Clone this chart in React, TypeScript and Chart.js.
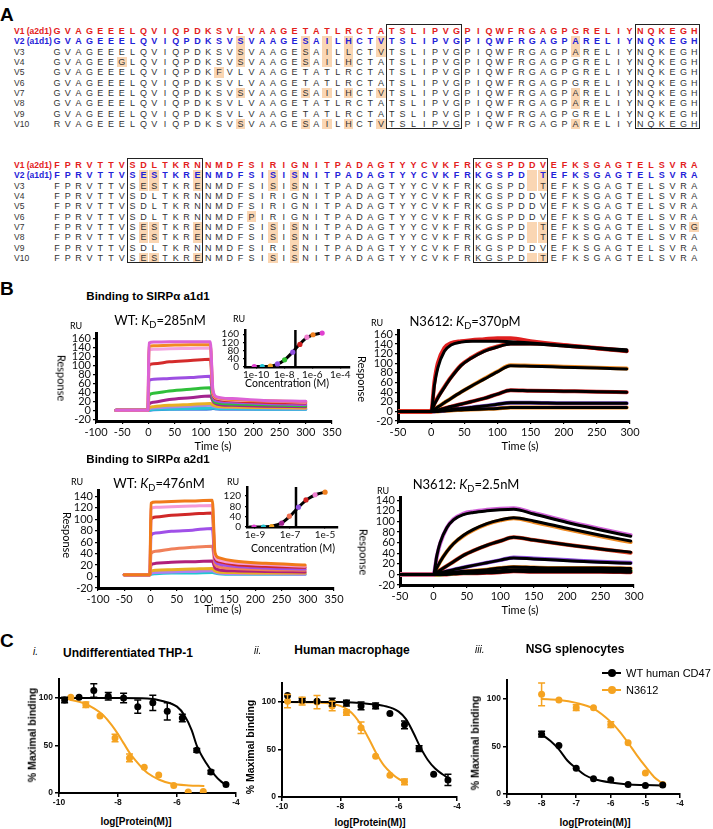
import React, { useEffect, useRef } from 'react';
import { Chart, registerables } from 'chart.js';
Chart.register(...registerables);

const ARIAL = '"Liberation Sans", Arial, sans-serif';
const CAL = 'Lato, "Liberation Sans", sans-serif';

// ---------------- Panel A data ----------------
const rowNames = ['V1 (a2d1)', 'V2 (a1d1)', 'V3', 'V4', 'V5', 'V6', 'V7', 'V8', 'V9', 'V10'];
const block1Seqs = [
  'GVAGEEELQVIQPDKSVLVAAGETATLRCTATSLIPVGPIQWFRGAGPGRELIYNQKEGH',
  'GVAGEEELQVIQPDKSVSVAAGESAILHCTVTSLIPVGPIQWFRGAGPARELIYNQKEGH',
  'GVAGEEELQVIQPDKSVSVAAGESAILLCTVTSLIPVGPIQWFRGAGPARELIYNQKEGH',
  'GVAGEEGLQVIQPDKSVSVAAGESAILHCTATSLIPVGPIQWFRGAGPGRELIYNQKEGH',
  'GVAGEEELQVIQPDKFVLVAAGETATLRCTATSLIPVGPIQWFRGAGPGRELIYNQKEGH',
  'GVAGEEELQVIQPDKSVLVAAGETATLRCTATSLIPVGPIQWFRGAGPGRELIYNQKEGH',
  'GVAGEEELQVIQPDKSVSVAAGESAILHCTVTSLIPVGPIQWFRGAGPARELIYNQKEGH',
  'GVAGEEELQVIQPDKSVLVAAGETATLRCTATSLIPVGPIQWFRGAGPARELIYNQKEGH',
  'GVAGEEELQVIQPDKSVLVAAGETATLRCTATSLIPVGPIQWFRGAGPGRELIYNQKEGH',
  'RVAGEEELQVIQPDKSVSVAAGESAILHCTVTSLIPVGPIQWFRGAGPARELIYNQKEGH',
];
const block1Marks = [
  [], [18, 24, 26, 28, 31, 49], [18, 24, 26, 28, 31, 49], [7, 18, 24, 26, 28], [16], [],
  [18, 24, 26, 28, 31, 49], [49], [], [18, 24, 26, 28, 31, 49],
];
const block1Boxes = [[32, 38], [55, 60]];
const block2Seqs = [
  'FPRVTTVSDLTKRNNMDFSIRIGNITPADAGTYYCVKFRKGSPDDVEFKSGAGTELSVRA',
  'FPRVTTVSESTKRENMDFSISISNITPADAGTYYCVKFRKGSPD-TEFKSGAGTELSVRA',
  'FPRVTTVSESTKRENMDFSISISNITPADAGTYYCVKFRKGSPD-TEFKSGAGTELSVRA',
  'FPRVTTVSDLTKRNNMDFSIRIGNITPADAGTYYCVKFRKGSPDDVEFKSGAGTELSVRA',
  'FPRVTTVSDLTKRNNMDFSIRIGNITPADAGTYYCVKFRKGSPDDVEFKSGAGTELSVRA',
  'FPRVTTVSDLTKRNNMDFPIRIGNITPADAGTYYCVKFRKGSPDDVEFKSGAGTELSVRA',
  'FPRVTTVSESTKRENMDFSISISNITPADAGTYYCVKFRKGSPD-TEFKSGAGTELSVRG',
  'FPRVTTVSESTKRENMDFSISISNITPADAGTYYCVKFRKGSPD-TEFKSGAGTELSVRA',
  'FPRVTTVSDLTKRNNMDFSIRISNITPADAGTYYCVKFRKGSPDDVEFKSGAGTELSVRA',
  'FPRVTTVSESTKRENMDFSISISNITPADAGTYYCVKFRKGSPD-TEFKSGAGTELSVRA',
];
const block2Marks = [
  [], [9, 10, 14, 21, 23, 45, 46], [9, 10, 14, 21, 23, 45, 46], [], [], [19],
  [9, 10, 14, 21, 23, 45, 46, 60], [9, 10, 14, 21, 23, 45, 46], [23], [9, 10, 14, 21, 23, 45, 46],
];
const block2Boxes = [[8, 14], [40, 46]];

// ---------------- Panel B data ----------------
const wtA1Time = [-62, -1, 1, 10, 40, 80, 118, 123, 130, 160, 220, 300];
const wtA1Curves = [
  [0, 0, 150, 152, 153, 153, 153, 45, 30, 26, 22, 20],
  [0, 0, 142, 144, 145, 146, 146, 40, 28, 24, 21, 19],
  [0, 0, 134, 136, 137, 138, 139, 38, 27, 23, 21, 18],
  [0, 0, 100, 104, 108, 111, 114, 35, 25, 21, 18, 16],
  [0, 0, 66, 69, 71, 73, 76, 30, 21, 18, 15, 13],
  [0, 0, 33, 38, 43, 47, 50, 24, 17, 14, 12, 10],
  [0, 0, 14, 18, 24, 28, 32, 20, 14, 11, 9, 8],
  [0, 0, 5, 8, 11, 13, 15, 12, 9, 7, 6, 5],
  [0, 0, 3, 5, 7, 9, 11, 9, 7, 6, 5, 4],
  [0, 0, 1, 2, 3, 4, 5, 6, 4, 4, 3, 3],
  [0, 0, 0, 1, 2, 2, 3, 4, 3, 2, 2, 2],
];
const wtA1Colors = ['#dc62d6', '#f28a22', '#f4a3df', '#d42b2b', '#9d4fe2', '#2fbf3a', '#a3238f', '#e8b024', '#a68be6', '#27c5d6', '#3f7fe0'];
const wtA1InsetLog = [-10.14, -9.57, -8.99, -8.48, -7.97, -7.39, -6.88, -6.38, -5.94, -5.29];
const wtA1InsetRU = [2, 2, 4, 15, 35, 72, 110, 145, 157, 165];
const wtA1InsetColors = ['#e040d0', '#20c0d0', '#f0a020', '#9050e0', '#30c030', '#9050e0', '#d02020', '#f080d0', '#f08020', '#e040d0'];
const wtA1FitLog = [-10.2, -9.5, -9, -8.5, -8, -7.5, -7, -6.5, -6, -5.5, -5.29];
const wtA1FitRU = [2, 2, 4, 13, 33, 65, 103, 137, 155, 163, 165];
const wtA1KdLog = -7.2;
const wtA1InsetTicks = [-10, -8, -6, -4];

const n3612A1Time = [-55, 0, 5, 10, 20, 30, 45, 60, 80, 100, 120, 150, 200, 250, 295];
const n3612A1Fits = [
  [0, 0, 55, 90, 125, 138, 144, 146, 146, 146, 145, 142, 137, 132, 128],
  [0, 0, 15, 28, 50, 70, 95, 110, 125, 134, 140, 140, 136, 131, 125],
  [0, 0, 4, 9, 18, 27, 40, 52, 67, 82, 95, 94, 92, 90, 88],
  [0, 0, 1, 3, 6, 10, 15, 20, 27, 36, 44, 43, 42, 41, 40],
  [0, 0, 0, 1, 2, 4, 6, 8, 11, 15, 18, 18, 17, 17, 17],
  [0, 0, 0, 0, 1, 2, 3, 4, 5, 6, 8, 8, 8, 8, 8],
];
const n3612A1Data = [
  [0, 0, 62, 100, 132, 142, 146, 148, 150, 152, 152, 146, 138, 132, 126],
  [0, 0, 16, 29, 51, 71, 96, 111, 126, 135, 141, 141, 137, 131, 125],
  [0, 0, 4, 9, 18, 27, 40, 52, 68, 83, 96, 95, 93, 91, 89],
  [0, 0, 1, 3, 6, 10, 15, 20, 27, 36, 44, 43, 42, 41, 40],
  [0, 0, 0, 1, 2, 4, 6, 8, 11, 15, 18, 18, 17, 17, 17],
  [0, 0, 0, 0, 1, 2, 3, 4, 5, 6, 8, 8, 8, 8, 8],
];
const n3612A1Colors = ['#e02020', '#e03020', '#f08a22', '#d02020', '#7a4fd0', '#f08a22'];

const wtA2Time = [-50, -1, 1, 10, 40, 80, 118, 123, 130, 160, 220, 295];
const wtA2Curves = [
  [3, 3, 128, 130, 131, 132, 133, 42, 33, 27, 23, 20],
  [3, 3, 118, 121, 122, 123, 124, 37, 29, 24, 21, 18],
  [3, 3, 100, 104, 107, 109, 111, 33, 26, 21, 18, 16],
  [3, 3, 72, 76, 79, 81, 84, 28, 22, 18, 15, 13],
  [3, 3, 40, 44, 48, 51, 53, 22, 17, 14, 12, 11],
  [3, 3, 20, 23, 25, 26, 27, 15, 12, 10, 9, 8],
  [3, 3, 9, 11, 12, 13, 14, 10, 8, 7, 6, 6],
  [3, 3, 6, 7, 8, 9, 10, 8, 6, 5, 5, 4],
  [3, 3, 4, 5, 6, 6, 7, 6, 5, 4, 4, 4],
];
const wtA2Colors = ['#f07a1a', '#f49ad8', '#d02828', '#a050e8', '#f0805a', '#b0207a', '#e8b020', '#b080f0', '#20c8d0'];
const wtA2InsetLog = [-9.06, -8.52, -8.05, -7.48, -7.04, -6.52, -6.09, -5.57, -5.0];
const wtA2InsetRU = [0, 0, 2, 15, 42, 77, 105, 125, 135];
const wtA2InsetColors = ['#e040d0', '#20c0d0', '#f0a020', '#a02090', '#f07050', '#9050e0', '#d02020', '#f080d0', '#f08020'];
const wtA2FitLog = [-9.3, -8.5, -8, -7.5, -7, -6.5, -6, -5.5, -5];
const wtA2FitRU = [0, 1, 4, 15, 42, 78, 108, 126, 135];
const wtA2KdLog = -6.66;
const wtA2InsetTicks = [-9, -7, -5];

const n3612A2Time = [-55, 0, 5, 10, 20, 30, 45, 60, 80, 100, 120, 150, 200, 250, 295];
const n3612A2Fits = [
  [0, 0, 35, 60, 88, 103, 113, 117, 120, 122, 123, 114, 98, 84, 72],
  [0, 0, 12, 24, 43, 58, 74, 85, 96, 103, 107, 101, 87, 74, 63],
  [0, 0, 4, 8, 16, 24, 36, 45, 55, 63, 70, 65, 56, 48, 42],
  [0, 0, 1, 3, 6, 9, 13, 17, 22, 27, 31, 29, 26, 23, 21],
  [0, 0, 0, 1, 2, 4, 6, 7, 9, 12, 14, 13, 12, 12, 11],
  [0, 0, 0, 0, 1, 2, 3, 4, 6, 7, 9, 9, 8, 8, 7],
  [0, 0, 0, 0, 0, 1, 2, 2, 3, 4, 6, 5, 5, 5, 4],
];
const n3612A2Data = [
  [0, 0, 33, 58, 88, 104, 115, 119, 122, 124, 125, 116, 100, 86, 74],
  [0, 0, 12, 24, 43, 58, 73, 84, 95, 102, 106, 99, 85, 72, 61],
  [0, 0, 4, 8, 16, 24, 36, 45, 55, 63, 70, 65, 56, 48, 41],
  [0, 0, 1, 3, 6, 9, 13, 17, 22, 27, 32, 30, 27, 24, 22],
  [0, 0, 0, 1, 2, 4, 6, 7, 9, 12, 14, 13, 12, 12, 11],
  [0, 0, 0, 0, 1, 2, 3, 4, 6, 7, 9, 9, 8, 8, 7],
  [0, 0, 0, 0, 0, 1, 2, 2, 3, 4, 6, 5, 5, 5, 4],
];
const n3612A2Colors = ['#d060d8', '#f08a22', '#e04020', '#9050e0', '#f08a22', '#30b030', '#e02020'];

// ---------------- Panel C data ----------------
const c1Log = [-9.81, -9.32, -8.82, -8.33, -7.81, -7.33, -6.82, -6.33, -5.82, -5.33, -4.85, -4.34];
const c1Wt = [98, 101, 108, 102, 100, 91, 95, 86, 79, 45, 22, 9];
const c1WtErr = [3, 1, 7, 4, 5, 7, 8, 9, 4, 2, 2, 1];
const c1NLog = [-9.6, -9.09, -8.61, -8.1, -7.61, -7.11, -6.62, -6.11, -5.62, -5.11];
const c1N = [101, 93, 81, 58, 37, 27, 19, 8, 1, 1.5];
const c1NErr = [1, 3, 1, 4, 4, 1, 1, 1, 1, 1];
const c1WtFitLog = [-10, -8, -7, -6.5, -6, -5.75, -5.5, -5.33, -5, -4.75, -4.5, -4.3];
const c1WtFit = [100, 100, 99.5, 97, 91, 82, 66, 50, 31, 20, 12, 8];
const c1NFitLog = [-9.6, -9.2, -8.8, -8.5, -8.2, -8, -7.8, -7.6, -7.4, -7.2, -7, -6.6, -6.2, -5.6, -5.1];
const c1NFit = [98, 95, 89, 82, 71, 62, 52, 42, 34, 27, 21, 14, 10, 8, 7.5];

const c2Log = [-9.81, -9.31, -8.8, -8.28, -7.79, -7.29, -6.79, -6.3, -5.8, -5.3, -4.8, -4.31];
const c2Wt = [107, 102, 101, 100, 99, 96, 96, 88, 76, 51, 24, 18];
const c2WtErr = [1, 2, 1, 4, 3, 4, 3, 1, 4, 3, 1, 6];
const c2NLog = [-9.81, -9.31, -8.8, -8.28, -7.79, -7.29, -6.79, -6.3, -5.8];
const c2N = [101, 101, 100, 96, 89, 73, 43, 23, 16];
const c2NErr = [7, 4, 7, 5, 3, 6, 1, 1, 3];
const c2WtFitLog = [-10, -8, -7, -6.5, -6, -5.75, -5.5, -5.25, -5, -4.75, -4.5, -4.3];
const c2WtFit = [100, 100, 98, 96, 90, 82, 68, 52, 39, 30, 24, 20];
const c2NFitLog = [-9.8, -8.5, -8, -7.75, -7.5, -7.25, -7, -6.75, -6.5, -6.25, -6, -5.8];
const c2NFit = [100, 99, 96, 92, 85, 74, 60, 45, 33, 25, 19, 16];

const c3Log = [-8, -7.5, -7, -6.5, -6, -5.5, -5, -4.5];
const c3Wt = [63, 51, 27, 16, 15, 10, 9, 9.5];
const c3WtErr = [3, 1, 1, 1, 1, 1, 1, 1];
const c3N = [105, 99, 91, 91, 73, 54, 22, 10];
const c3NErr = [12, 1, 3, 1, 3, 1, 1, 1];
const c3WtFitLog = [-8, -7.75, -7.5, -7.25, -7, -6.75, -6.5, -6, -5.5, -5, -4.5];
const c3WtFit = [63, 56, 47, 35, 27, 20, 16, 12, 10, 9.5, 9];
const c3NFitLog = [-8, -7.5, -7, -6.5, -6, -5.75, -5.5, -5.25, -5, -4.75, -4.5];
const c3NFit = [100, 99, 96, 90, 76, 66, 54, 41, 29, 18, 11];

const legendLabels = ['WT human CD47', 'N3612'];
const BLACK = '#000000';
const ORANGE = '#f5a321';

// ---------------- helpers ----------------
const xy = (xs: number[], ys: number[]) => xs.map((x, i) => ({ x, y: ys[i] }));

const lineDs = (xs: number[], ys: number[], color: string, width: number, mono = true) => ({
  data: xy(xs, ys), showLine: true, borderColor: color, backgroundColor: color, borderWidth: width,
  pointRadius: 0, fill: false, cubicInterpolationMode: mono ? 'monotone' : 'default', tension: 0,
  borderCapStyle: 'round', borderJoinStyle: 'round',
});
const ptsDs = (xs: number[], ys: number[], color: any, r: number, errs?: number[]) => ({
  data: xy(xs, ys), showLine: false, pointRadius: r, pointBackgroundColor: color, backgroundColor: color,
  borderColor: Array.isArray(color) ? '#000' : color, pointBorderWidth: 0, errs,
});

const errPlugin = {
  id: 'errbars',
  afterDatasetsDraw(chart: any) {
    const ctx = chart.ctx; const ys = chart.scales.y;
    chart.data.datasets.forEach((ds: any, i: number) => {
      if (!ds.errs) return;
      const meta = chart.getDatasetMeta(i);
      ctx.save(); ctx.strokeStyle = ds.borderColor; ctx.lineWidth = 1.5;
      meta.data.forEach((pt: any, k: number) => {
        const e = ds.errs[k]; if (!e || e < 1.5) return;
        const v = ds.data[k].y;
        const y1 = ys.getPixelForValue(v + e), y2 = ys.getPixelForValue(v - e);
        ctx.beginPath();
        ctx.moveTo(pt.x, y1); ctx.lineTo(pt.x, y2);
        ctx.moveTo(pt.x - 3.5, y1); ctx.lineTo(pt.x + 3.5, y1);
        ctx.moveTo(pt.x - 3.5, y2); ctx.lineTo(pt.x + 3.5, y2);
        ctx.stroke();
      });
      ctx.restore();
    });
  },
};

type Box = { L: number; T: number; R: number; B: number; ml: number; mt: number; mr: number; mb: number };

function axis(min: number, max: number, step: number, o: any) {
  return {
    type: 'linear', min, max,
    afterFit: o.fit,
    afterBuildTicks: o.fixed ? (s: any) => { s.ticks = o.fixed.map((v: number) => ({ value: v })); } : undefined,
    ticks: {
      stepSize: step, includeBounds: false, autoSkip: false, maxRotation: 0, minRotation: 0,
      font: o.font, color: '#111', padding: o.pad, callback: o.cb || ((v: any) => String(v)),
    },
    grid: { display: true, drawOnChartArea: false, drawTicks: true, tickLength: o.tick, color: '#000', lineWidth: o.tw || 1.2 },
    border: { display: true, color: '#000', width: o.border },
  };
}

function config(box: Box, datasets: any[], xs: any, ys: any, plugins: any[] = []) {
  return {
    type: 'scatter',
    data: { datasets },
    options: {
      responsive: false, animation: false, events: [], devicePixelRatio: 1,
      layout: { padding: { left: 0, top: box.mt, right: box.mr, bottom: 0 } },
      plugins: { legend: { display: false }, tooltip: { enabled: false } },
      scales: { x: xs, y: ys },
    },
    plugins,
  };
}

function ChartCanvas({ box, make }: { box: Box; make: () => any }) {
  const ref = useRef<HTMLCanvasElement>(null);
  useEffect(() => {
    const chart = new Chart(ref.current as any, make());
    return () => chart.destroy();
  }, []);
  const w = box.R - box.L + box.ml + box.mr;
  const h = box.B - box.T + box.mt + box.mb;
  return (
    <canvas ref={ref} width={w} height={h}
      style={{ position: 'absolute', left: box.L - box.ml, top: box.T - box.mt, width: w, height: h }} />
  );
}

function Tx({ x, y, size = 11, children, bold = false, italic = false, color = '#000', anchor = 'start', rot = 0, family = ARIAL }: any) {
  const tx = anchor === 'middle' ? '-50%' : anchor === 'end' ? '-100%' : '0';
  return (
    <div style={{
      position: 'absolute', left: x, top: y, transform: `translate(${tx}, -50%)${rot ? ` rotate(${rot}deg)` : ''}`,
      fontSize: size, fontWeight: bold ? 700 : 400, fontStyle: italic ? 'italic' : 'normal', color,
      fontFamily: family, lineHeight: 1, whiteSpace: 'nowrap',
    }}>{children}</div>
  );
}

const Kd = ({ pre, val }: any) => (
  <span>{pre}: <i>K</i><span style={{ fontSize: '0.72em', position: 'relative', top: '0.3em' }}>D</span>={val}</span>
);

function SeqBlock({ y0, seqs, marks, boxes }: any) {
  const x0 = 57, step = 10.8, rowH = 10.33;
  const els: any[] = [];
  seqs.forEach((s: string, r: number) => {
    const cy = y0 + r * rowH;
    const color = r === 0 ? '#e3201b' : r === 1 ? '#1f22d8' : '#333';
    const bold = r < 2;
    els.push(<Tx key={`n${r}`} x={14} y={cy} size={8.5} bold={bold} color={color}>{rowNames[r]}</Tx>);
    marks[r].forEach((p: number) => {
      els.push(<div key={`m${r}-${p}`} style={{ position: 'absolute', left: x0 + (p - 1) * step - 4.9, top: cy - 5.2, width: 9.8, height: 10.4, background: '#fad6b3' }} />);
    });
    s.split('').forEach((ch, i) => {
      if (ch === '-') return;
      els.push(
        <div key={`c${r}-${i}`} style={{
          position: 'absolute', left: x0 + i * step - 6, top: cy - 6, width: 12, height: 12, lineHeight: '12px',
          textAlign: 'center', fontSize: 9, fontFamily: ARIAL, fontWeight: bold ? 700 : 400, color,
        }}>{ch}</div>
      );
    });
  });
  boxes.forEach(([a, b]: number[], k: number) => {
    const left = x0 + (a - 1) * step - step / 2;
    els.push(<div key={`b${k}`} style={{
      position: 'absolute', left, top: y0 - 7, width: (b - a + 1) * step, height: 9 * rowH + 12.5,
      border: '1.5px solid #222', boxSizing: 'border-box',
    }} />);
  });
  return <>{els}</>;
}

// ---------------- chart builders ----------------
const bFont = { family: CAL, size: 11 };
function sensorChart(box: Box, xr: number[], yr: number[], datasets: any[]) {
  return config(box, datasets,
    axis(xr[0], xr[1], 50, { font: bFont, pad: 2, tick: 3, border: 3, fit: (s: any) => { s.height = box.mb; } }),
    axis(yr[0], yr[1], 20, { font: bFont, pad: 2, tick: 3, border: 3, fit: (s: any) => { s.width = box.ml; } }));
}
function insetChart(box: Box, xr: number[], xticks: number[], yr: number[], datasets: any[]) {
  return config(box, datasets,
    axis(xr[0], xr[1], 1, { font: { family: CAL, size: 10 }, pad: 0, tick: 2, border: 2.5, fixed: xticks, cb: (v: any) => `1e${v}`, fit: (s: any) => { s.height = box.mb; } }),
    axis(yr[0], yr[1], 40, { font: { family: CAL, size: 10 }, pad: 4, tick: 2, border: 2.5, fit: (s: any) => { s.width = box.ml; } }));
}
const cFont = { family: ARIAL, size: 8.5, weight: 'bold' };
function doseChart(box: Box, xr: number[], xstep: number, datasets: any[]) {
  return config(box, datasets,
    axis(xr[0], xr[1], xstep, { font: cFont, pad: 1, tick: 4, border: 2, tw: 1.5, fit: (s: any) => { s.height = box.mb; } }),
    axis(0, 120, 50, { font: cFont, pad: 2, tick: 4, border: 2, tw: 1.5, fit: (s: any) => { s.width = box.ml; } }),
    [errPlugin]);
}

const B1: Box = { L: 96, T: 333, R: 332, B: 421, ml: 40, mt: 8, mr: 22, mb: 20 };
const B1i: Box = { L: 245, T: 326, R: 350, B: 367, ml: 30, mt: 6, mr: 12, mb: 12 };
const B2: Box = { L: 398, T: 330, R: 630, B: 421, ml: 36, mt: 8, mr: 20, mb: 20 };
const B3: Box = { L: 98, T: 490, R: 334, B: 588, ml: 40, mt: 8, mr: 22, mb: 20 };
const B3i: Box = { L: 247, T: 483, R: 338, B: 527, ml: 30, mt: 6, mr: 12, mb: 12 };
const B4: Box = { L: 400, T: 497, R: 634, B: 585, ml: 36, mt: 8, mr: 20, mb: 20 };
const C1: Box = { L: 59, T: 678, R: 236, B: 793, ml: 30, mt: 6, mr: 12, mb: 16 };
const C2: Box = { L: 282, T: 682, R: 457, B: 797, ml: 30, mt: 6, mr: 12, mb: 16 };
const C3: Box = { L: 507, T: 679, R: 680, B: 794, ml: 30, mt: 6, mr: 12, mb: 16 };

export default function App() {
  return (
    <div style={{ position: 'absolute', left: 0, top: 0, width: 713, height: 829, background: '#fff', overflow: 'hidden' }}>
      {/* Panel A */}
      <Tx x={0} y={14} size={19} bold>A</Tx>
      <SeqBlock y0={31} seqs={block1Seqs} marks={block1Marks} boxes={block1Boxes} />
      <SeqBlock y0={165} seqs={block2Seqs} marks={block2Marks} boxes={block2Boxes} />

      {/* Panel B charts */}
      <ChartCanvas box={B1} make={() => sensorChart(B1, [-100, 350], [-24, 171],
        wtA1Curves.map((c, i) => lineDs(wtA1Time, c, wtA1Colors[i], 3)))} />
      <ChartCanvas box={B1i} make={() => insetChart(B1i, [-10.8, -3.3], wtA1InsetTicks, [0, 180], [
        ptsDs(wtA1InsetLog, wtA1InsetRU, wtA1InsetColors, 2.6),
        lineDs(wtA1FitLog, wtA1FitRU, '#000', 3),
        lineDs([wtA1KdLog, wtA1KdLog], [0, 180], '#000', 2.5, false),
      ])} />
      <ChartCanvas box={B2} make={() => sensorChart(B2, [-50, 300], [-20, 168], [
        ...n3612A1Fits.map((c) => lineDs(n3612A1Time, c, '#000', 3)),
        ...n3612A1Data.map((c, i) => lineDs(n3612A1Time, c, n3612A1Colors[i], 4)),
      ])} />
      <ChartCanvas box={B3} make={() => sensorChart(B3, [-100, 350], [-20, 150],
        wtA2Curves.map((c, i) => lineDs(wtA2Time, c, wtA2Colors[i], 3)))} />
      <ChartCanvas box={B3i} make={() => insetChart(B3i, [-9.46, -4.26], wtA2InsetTicks, [0, 155], [
        ptsDs(wtA2InsetLog, wtA2InsetRU, wtA2InsetColors, 2.6),
        lineDs(wtA2FitLog, wtA2FitRU, '#000', 3),
        lineDs([wtA2KdLog, wtA2KdLog], [0, 155], '#000', 2.5, false),
      ])} />
      <ChartCanvas box={B4} make={() => sensorChart(B4, [-50, 300], [-20, 145], [
        ...n3612A2Fits.map((c) => lineDs(n3612A2Time, c, '#000', 3)),
        ...n3612A2Data.map((c, i) => lineDs(n3612A2Time, c, n3612A2Colors[i], 4)),
      ])} />

      {/* Panel C charts */}
      <ChartCanvas box={C1} make={() => doseChart(C1, [-10, -4], 2, [
        ptsDs(c1Log, c1Wt, BLACK, 3.5, c1WtErr),
        ptsDs(c1NLog, c1N, ORANGE, 3.5, c1NErr),
        lineDs(c1WtFitLog, c1WtFit, BLACK, 2),
        lineDs(c1NFitLog, c1NFit, ORANGE, 2),
      ])} />
      <ChartCanvas box={C2} make={() => doseChart(C2, [-10, -4], 2, [
        ptsDs(c2Log, c2Wt, BLACK, 3.5, c2WtErr),
        ptsDs(c2NLog, c2N, ORANGE, 3.5, c2NErr),
        lineDs(c2WtFitLog, c2WtFit, BLACK, 2),
        lineDs(c2NFitLog, c2NFit, ORANGE, 2),
      ])} />
      <ChartCanvas box={C3} make={() => doseChart(C3, [-9, -4], 1, [
        ptsDs(c3Log, c3Wt, BLACK, 3.5, c3WtErr),
        ptsDs(c3Log, c3N, ORANGE, 3.5, c3NErr),
        lineDs(c3WtFitLog, c3WtFit, BLACK, 2),
        lineDs(c3NFitLog, c3NFit, ORANGE, 2),
      ])} />

      {/* Panel B text */}
      <Tx x={0} y={288} size={19} bold>B</Tx>
      <Tx x={148} y={297} size={11.5} bold anchor="middle">Binding to SIRPα a1d1</Tx>
      <Tx x={160} y={320} size={13} anchor="middle" family={CAL}><Kd pre="WT" val="285nM" /></Tx>
      <Tx x={76} y={325} size={9} anchor="middle" family={CAL}>RU</Tx>
      <Tx x={62} y={378} size={11} anchor="middle" rot={90} family={CAL}>Response</Tx>
      <Tx x={213} y={445} size={11} anchor="middle" family={CAL}>Time (s)</Tx>
      <Tx x={239} y={318} size={9} anchor="middle" family={CAL}>RU</Tx>
      <Tx x={287} y={383} size={10.5} anchor="middle" family={CAL}>Concentration (M)</Tx>

      <Tx x={465} y={321} size={13} anchor="middle" family={CAL}><Kd pre="N3612" val="370pM" /></Tx>
      <Tx x={377} y={322} size={9} anchor="middle" family={CAL}>RU</Tx>
      <Tx x={362} y={379} size={11} anchor="middle" rot={90} family={CAL}>Response</Tx>
      <Tx x={520} y={445} size={11} anchor="middle" family={CAL}>Time (s)</Tx>

      <Tx x={148} y={460} size={11.5} bold anchor="middle">Binding to SIRPα a2d1</Tx>
      <Tx x={159} y={483} size={13} anchor="middle" family={CAL}><Kd pre="WT" val="476nM" /></Tx>
      <Tx x={77} y={481} size={9} anchor="middle" family={CAL}>RU</Tx>
      <Tx x={67} y={535} size={11} anchor="middle" rot={90} family={CAL}>Response</Tx>
      <Tx x={223} y={608} size={11} anchor="middle" family={CAL}>Time (s)</Tx>
      <Tx x={233} y={481} size={9} anchor="middle" family={CAL}>RU</Tx>
      <Tx x={293} y={548} size={10.5} anchor="middle" family={CAL}>Concentration (M)</Tx>

      <Tx x={466} y={484} size={13} anchor="middle" family={CAL}><Kd pre="N3612" val="2.5nM" /></Tx>
      <Tx x={383} y={490} size={9} anchor="middle" family={CAL}>RU</Tx>
      <Tx x={364} y={552} size={11} anchor="middle" rot={90} family={CAL}>Response</Tx>
      <Tx x={520} y={609} size={11} anchor="middle" family={CAL}>Time (s)</Tx>

      {/* Panel C text */}
      <Tx x={0} y={640} size={19} bold>C</Tx>
      <Tx x={33} y={652} size={10} italic>i.</Tx>
      <Tx x={128} y={653} size={12} bold anchor="middle">Undifferentiated THP-1</Tx>
      <Tx x={32} y={735} size={10.5} bold anchor="middle" rot={-90}>% Maximal binding</Tx>
      <Tx x={136} y={822} size={10} bold anchor="middle">log[Protein(M)]</Tx>

      <Tx x={254} y={651} size={10} italic>ii.</Tx>
      <Tx x={352} y={650} size={12} bold anchor="middle">Human macrophage</Tx>
      <Tx x={250} y={747} size={10.5} bold anchor="middle" rot={-90}>% Maximal binding</Tx>
      <Tx x={370} y={823} size={10} bold anchor="middle">log[Protein(M)]</Tx>

      <Tx x={475} y={650} size={10} italic>iii.</Tx>
      <Tx x={575} y={649} size={12} bold anchor="middle">NSG splenocytes</Tx>
      <Tx x={475} y={743} size={10.5} bold anchor="middle" rot={-90}>% Maximal binding</Tx>
      <Tx x={595} y={823} size={10} bold anchor="middle">log[Protein(M)]</Tx>

      {/* C3 legend */}
      {[BLACK, ORANGE].map((col, i) => (
        <React.Fragment key={i}>
          <div style={{ position: 'absolute', left: 602, top: 672 + i * 16.5, width: 19, height: 2, background: col }} />
          <div style={{ position: 'absolute', left: 607.5, top: 669 + i * 16.5, width: 8, height: 8, borderRadius: 4, background: col }} />
          <Tx x={626} y={673 + i * 16.5} size={11}>{legendLabels[i]}</Tx>
        </React.Fragment>
      ))}
    </div>
  );
}
